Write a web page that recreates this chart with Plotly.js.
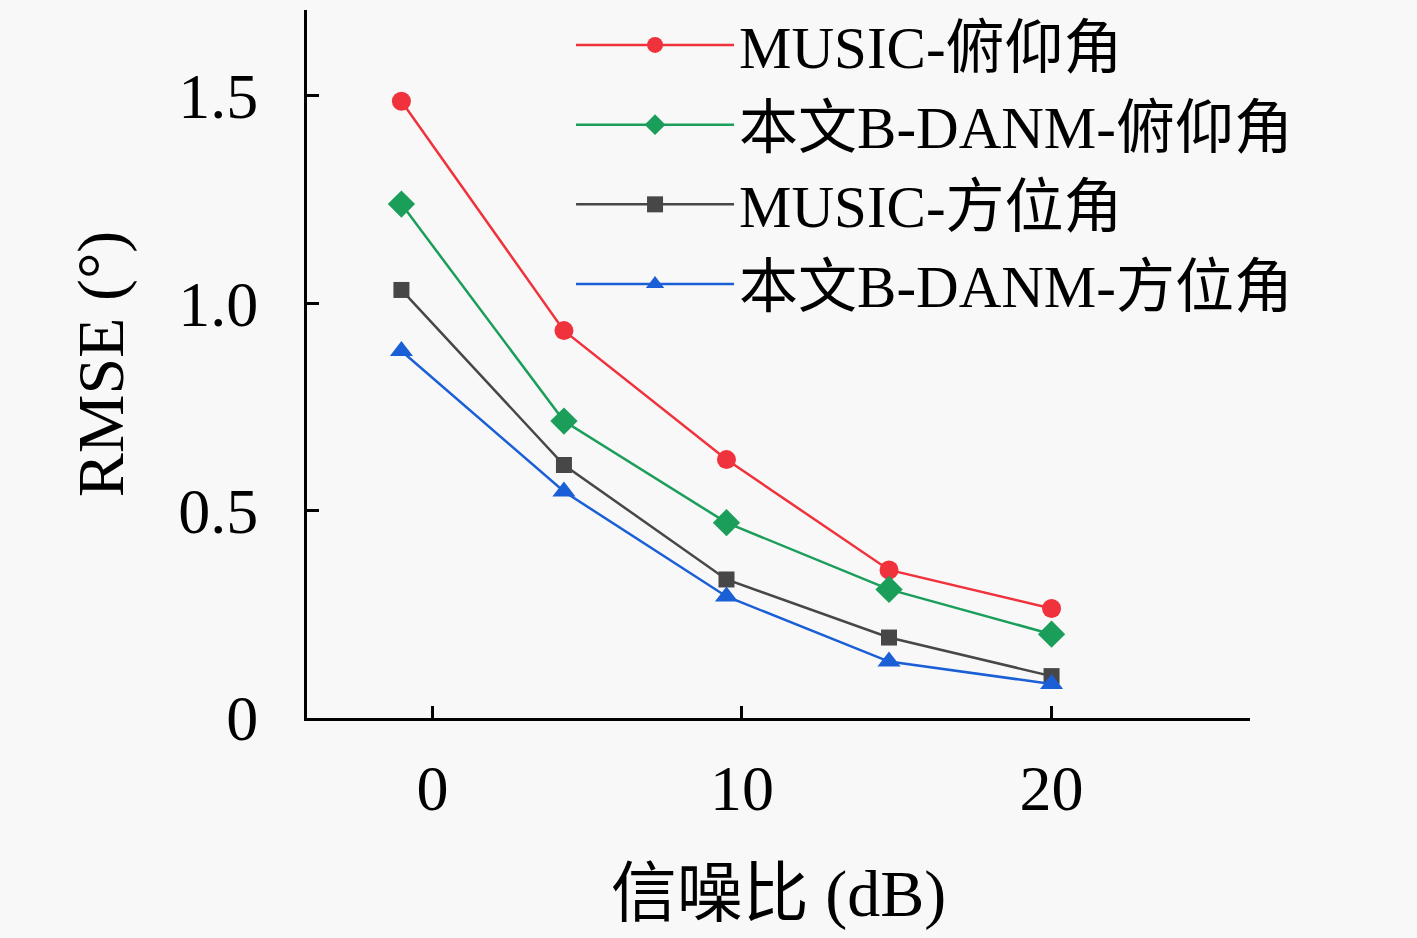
<!DOCTYPE html>
<html>
<head>
<meta charset="utf-8">
<script src="https://cdn.plot.ly/plotly-3.0.1.min.js"></script>
<style>
  html, body { margin: 0; padding: 0; background: #f8f8f8; }
  #chart { width: 1417px; height: 938px; }
</style>
</head>
<body>
<div id="chart"></div>
<script>
// SNR (dB) sample points
var snr = [-1, 4.25, 9.5, 14.75, 20];

// RMSE (deg)
var musicElev = [1.487, 0.934, 0.623, 0.357, 0.264];
var danmElev  = [1.239, 0.716, 0.471, 0.310, 0.202];
var musicAzim = [1.032, 0.610, 0.334, 0.194, 0.101];
var danmAzim  = [0.885, 0.546, 0.293, 0.136, 0.082];

var names = ['MUSIC-俯仰角', '本文B-DANM-俯仰角', 'MUSIC-方位角', '本文B-DANM-方位角'];

var yTickVals = [0, 0.5, 1.0, 1.5];
var yTickText = ['0', '0.5', '1.0', '1.5'];
var xTickVals = [0, 10, 20];

var font = 'Liberation Serif, "Noto Sans CJK SC", serif';

function trace(y, name, color, symbol, size) {
  return {
    x: snr,
    y: y,
    name: name,
    type: 'scatter',
    mode: 'lines+markers',
    line: { color: color, width: 2.5 },
    marker: { color: color, symbol: symbol, size: size }
  };
}

var data = [
  trace(musicElev, names[0], '#f0323c', 'circle', 19),
  trace(danmElev, names[1], '#1a9e5a', 'diamond', 21),
  trace(musicAzim, names[2], '#474747', 'square', 16),
  trace(danmAzim, names[3], '#1a5fd6', 'triangle-up', 20)
];

var layout = {
  width: 1417,
  height: 938,
  paper_bgcolor: '#f8f8f8',
  plot_bgcolor: '#f8f8f8',
  margin: { l: 307, r: 167, t: 10, b: 220, autoexpand: false },
  font: { family: font, size: 64, color: '#000' },
  showlegend: true,
  legend: {
    x: 0.28, y: 1.014, xanchor: 'left', yanchor: 'top',
    bgcolor: 'rgba(0,0,0,0)',
    itemwidth: 158,
    font: { family: font, size: 59, color: '#000' }
  },
  xaxis: {
    range: [-4.05, 26.41],
    tickmode: 'array',
    tickvals: xTickVals,
    ticks: 'inside',
    ticklen: 12,
    tickwidth: 3,
    tickcolor: '#000',
    showline: true,
    linecolor: '#000',
    linewidth: 3,
    showgrid: false,
    zeroline: false,
    ticklabelstandoff: 12,
    tickfont: { size: 64 },
    title: { text: '信噪比 (dB)', font: { size: 66 }, standoff: 48 }
  },
  yaxis: {
    range: [0, 1.707],
    tickmode: 'array',
    tickvals: yTickVals,
    ticktext: yTickText,
    ticks: 'inside',
    ticklen: 12,
    tickwidth: 3,
    tickcolor: '#000',
    showline: true,
    linecolor: '#000',
    linewidth: 3,
    showgrid: false,
    zeroline: false,
    ticklabelstandoff: 33,
    tickfont: { size: 64 },
    title: { text: 'RMSE (°)', font: { size: 66 }, standoff: 34 }
  }
};

Plotly.newPlot('chart', data, layout, { staticPlot: true });
</script>
</body>
</html>
